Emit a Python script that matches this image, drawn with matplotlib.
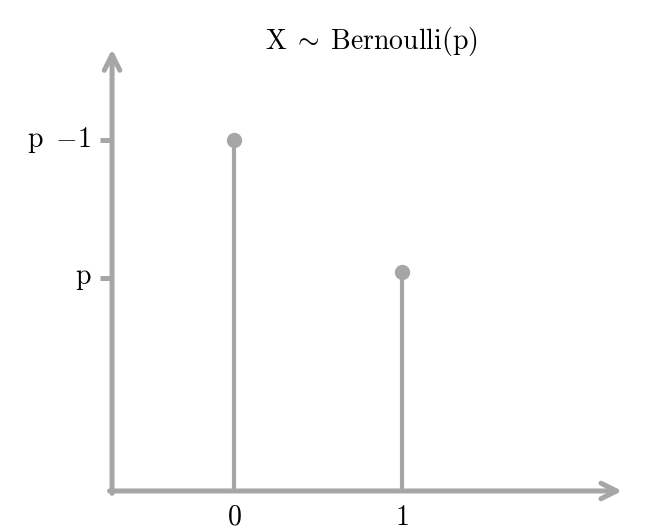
import matplotlib
matplotlib.use("Agg")
import matplotlib.pyplot as plt

plt.rcParams['mathtext.fontset'] = 'cm'

# data
outcomes = [0, 1]
probs = [0.6, 0.375]
ytick_pos = [0.6, 0.364]
ytick_labels = [r'$\mathrm{p}\ -\!1$', r'$\mathrm{p}$']
xtick_labels = [r'$0$', r'$1$']
title = r'$\mathrm{X}\;\sim\;\mathrm{Bernoulli(p)}$'

grey = '#a6a6a6'

fig = plt.figure(figsize=(6.5, 5.3), dpi=100)
ax = fig.add_axes([0, 0, 1, 1])
ax.set_xlim(-1.393, 2.476)
ax.set_ylim(-0.0667, 0.839)
ax.axis('off')

x0, y0 = -0.726, 0.0

# axes arrows
ax.annotate('', xy=(2.31, y0), xytext=(x0 - 0.015, y0),
            arrowprops=dict(arrowstyle='->', lw=3.6, color=grey, mutation_scale=28,
                            shrinkA=0, shrinkB=0))
ax.annotate('', xy=(x0, 0.755), xytext=(x0, y0 - 0.004),
            arrowprops=dict(arrowstyle='->', lw=3.6, color=grey, mutation_scale=28,
                            shrinkA=0, shrinkB=0))

# stems
for x, p in zip(outcomes, probs):
    ax.plot([x, x], [y0, p], color=grey, lw=3, solid_capstyle='butt', zorder=2)
    ax.plot(x, p, 'o', color=grey, ms=10, zorder=3)

# y ticks
for yt, lab in zip(ytick_pos, ytick_labels):
    ax.plot([x0 - 0.07, x0], [yt, yt], color=grey, lw=3.6, solid_capstyle='butt')
    ax.text(x0 - 0.12, yt, lab, ha='right', va='center', fontsize=20, color='black')

# x tick labels
for x, lab in zip(outcomes, xtick_labels):
    ax.text(x, -0.02, lab, ha='center', va='top', fontsize=20, color='black')

ax.text(0.82, 0.768, title, ha='center', va='center', fontsize=20, color='black')

fig.savefig('out.png', dpi=100)
